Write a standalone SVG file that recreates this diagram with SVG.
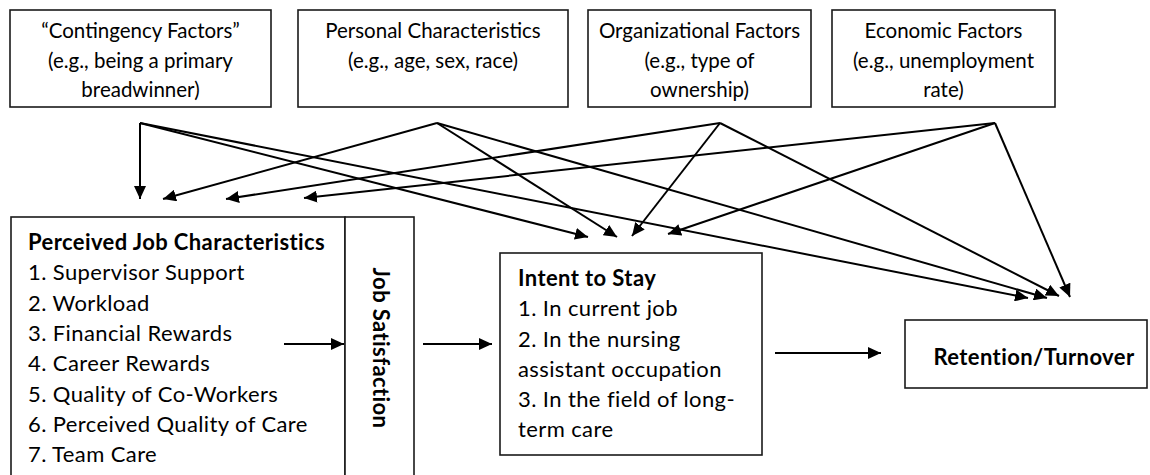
<svg xmlns="http://www.w3.org/2000/svg" width="1150" height="475" viewBox="0 0 1150 475">
  <style>
    .box { fill: #ffffff; stroke: #1a1a1a; stroke-width: 1.6; }
    .t { font-family: "Lato", "Open Sans", sans-serif; font-size: 20.5px; fill: #000; }
    .m { font-size: 22px; letter-spacing: 0.4px; }
    .c { text-anchor: middle; }
    .b { font-weight: bold; }
    .link { fill: none; stroke: #000; stroke-width: 2; marker-end: url(#arrow); }
  </style>
  <defs>
    <marker id="arrow" markerUnits="userSpaceOnUse" markerWidth="14" markerHeight="12" refX="13" refY="6" orient="auto">
      <path d="M0,0 L13,6 L0,12 Z" fill="#000"/>
    </marker>
  </defs>
  <rect width="1150" height="475" fill="#ffffff"/>

  <!-- Top row: external factors -->
  <g id="contingency-factors">
    <rect class="box" x="10" y="10" width="261" height="97"/>
    <text class="t c" x="140.5" y="38">“Contingency Factors”</text>
    <text class="t c" x="140.5" y="68">(e.g., being a primary</text>
    <text class="t c" x="140.5" y="97">breadwinner)</text>
  </g>
  <g id="personal-characteristics">
    <rect class="box" x="298" y="10" width="270" height="97"/>
    <text class="t c" x="433" y="38">Personal Characteristics</text>
    <text class="t c" x="433" y="68">(e.g., age, sex, race)</text>
  </g>
  <g id="organizational-factors">
    <rect class="box" x="588" y="10" width="223" height="97"/>
    <text class="t c" x="699.5" y="38">Organizational Factors</text>
    <text class="t c" x="699.5" y="68">(e.g., type of</text>
    <text class="t c" x="699.5" y="97">ownership)</text>
  </g>
  <g id="economic-factors">
    <rect class="box" x="832" y="10" width="223" height="97"/>
    <text class="t c" x="943.5" y="38">Economic Factors</text>
    <text class="t c" x="943.5" y="68">(e.g., unemployment</text>
    <text class="t c" x="943.5" y="97">rate)</text>
  </g>

  <!-- Middle row -->
  <g id="perceived-job-characteristics">
    <rect class="box" x="11" y="217" width="334" height="270"/>
    <text class="t m b" x="28" y="250">Perceived Job Characteristics</text>
    <text class="t m" x="28" y="280">1. Supervisor Support</text>
    <text class="t m" x="28" y="310.5">2. Workload</text>
    <text class="t m" x="28" y="341">3. Financial Rewards</text>
    <text class="t m" x="28" y="371">4. Career Rewards</text>
    <text class="t m" x="28" y="401.5">5. Quality of Co-Workers</text>
    <text class="t m" x="28" y="432">6. Perceived Quality of Care</text>
    <text class="t m" x="28" y="462">7. Team Care</text>
  </g>
  <g id="job-satisfaction">
    <rect class="box" x="345" y="217" width="69" height="270"/>
    <text class="t m b c" transform="translate(373,348) rotate(90)">Job Satisfaction</text>
  </g>
  <g id="intent-to-stay">
    <rect class="box" x="500" y="253" width="262" height="202"/>
    <text class="t m b" x="518" y="286">Intent to Stay</text>
    <text class="t m" x="518" y="316">1. In current job</text>
    <text class="t m" x="518" y="346.5">2. In the nursing</text>
    <text class="t m" x="518" y="376.5">assistant occupation</text>
    <text class="t m" x="518" y="407">3. In the field of long-</text>
    <text class="t m" x="518" y="437">term care</text>
  </g>
  <g id="retention-turnover">
    <rect class="box" x="905" y="320" width="242" height="68"/>
    <text class="t m b c" x="1034" y="365">Retention/Turnover</text>
  </g>

  <!-- Connectors -->
  <g id="connectors">
    <!-- from contingency factors -->
    <line class="link" x1="140" y1="123" x2="140" y2="199"/>
    <line class="link" x1="140" y1="123" x2="588" y2="237"/>
    <line class="link" x1="140" y1="123" x2="1028" y2="298"/>
    <!-- from personal characteristics -->
    <line class="link" x1="437" y1="123" x2="163" y2="199"/>
    <line class="link" x1="437" y1="123" x2="617" y2="237"/>
    <line class="link" x1="437" y1="123" x2="1047" y2="298"/>
    <!-- from organizational factors -->
    <line class="link" x1="720" y1="123" x2="226" y2="199"/>
    <line class="link" x1="720" y1="123" x2="632" y2="236"/>
    <line class="link" x1="720" y1="123" x2="1059" y2="296"/>
    <!-- from economic factors -->
    <line class="link" x1="995" y1="123" x2="304" y2="198"/>
    <line class="link" x1="995" y1="123" x2="668" y2="234"/>
    <line class="link" x1="995" y1="123" x2="1070" y2="297"/>
    <!-- main chain -->
    <line class="link" x1="284" y1="344" x2="344" y2="344"/>
    <line class="link" x1="423" y1="344" x2="492" y2="344"/>
    <line class="link" x1="775" y1="353" x2="881" y2="353"/>
  </g>
</svg>
